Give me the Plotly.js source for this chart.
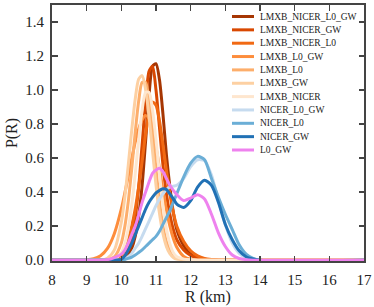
<!DOCTYPE html>
<html><head><meta charset="utf-8">
<script src="https://cdn.plot.ly/plotly-3.0.1.min.js"></script>
<style>html,body{margin:0;padding:0;background:#fff}#chart{width:374px;height:307px}</style>
</head><body><div id="chart"></div>
<script>
// Radius grid (km)
const R = [8, 9, 9.2, 9.4, 9.6, 9.8, 10, 10.1, 10.2, 10.3, 10.4, 10.5, 10.6, 10.7, 10.8, 10.9, 11, 11.1, 11.2, 11.3, 11.4, 11.5, 11.6, 11.8, 12, 12.2, 12.4, 12.6, 12.8, 13, 13.2, 13.4, 13.6, 13.8, 14, 17];

const LMXB_NICER_L0_GW = [0, 0, 0, 0, 0, 0, 0.004, 0.012, 0.03, 0.07, 0.14, 0.26, 0.44, 0.7, 0.97, 1.14, 1.155, 1.06, 0.86, 0.62, 0.43, 0.28, 0.18, 0.085, 0.035, 0.012, 0.004, 0.001, 0, 0, 0, 0, 0, 0, 0, 0];
const LMXB_NICER_GW    = [0, 0, 0, 0, 0, 0.002, 0.008, 0.025, 0.06, 0.13, 0.25, 0.43, 0.68, 0.93, 1.11, 1.14, 1.0, 0.78, 0.56, 0.39, 0.27, 0.18, 0.12, 0.06, 0.028, 0.012, 0.005, 0.002, 0, 0, 0, 0, 0, 0, 0, 0];
const LMXB_NICER_L0    = [0, 0, 0, 0, 0.003, 0.01, 0.03, 0.06, 0.12, 0.2, 0.3, 0.43, 0.58, 0.74, 0.87, 0.93, 0.91, 0.82, 0.68, 0.53, 0.39, 0.28, 0.2, 0.11, 0.055, 0.025, 0.01, 0.004, 0.001, 0, 0, 0, 0, 0, 0, 0];
const LMXB_L0_GW       = [0, 0.002, 0.008, 0.026, 0.069, 0.157, 0.301, 0.394, 0.495, 0.597, 0.693, 0.772, 0.826, 0.85, 0.833, 0.768, 0.665, 0.541, 0.414, 0.297, 0.2, 0.127, 0.076, 0.022, 0.005, 0.001, 0, 0, 0, 0, 0, 0, 0, 0, 0, 0];
const LMXB_L0          = [0, 0, 0, 0, 0.002, 0.019, 0.101, 0.197, 0.344, 0.537, 0.749, 0.935, 1.045, 1.045, 0.935, 0.749, 0.537, 0.344, 0.197, 0.11, 0.06, 0.03, 0.015, 0.005, 0.001, 0, 0, 0, 0, 0, 0, 0, 0, 0, 0, 0];
const LMXB_GW          = [0, 0, 0, 0, 0.011, 0.06, 0.223, 0.37, 0.559, 0.764, 0.946, 1.064, 1.085, 1.004, 0.842, 0.641, 0.442, 0.276, 0.157, 0.081, 0.038, 0.016, 0.006, 0.003, 0.001, 0, 0, 0, 0, 0, 0, 0, 0, 0, 0, 0];
const LMXB_NICER       = [0, 0, 0, 0, 0, 0.007, 0.044, 0.096, 0.186, 0.325, 0.506, 0.707, 0.882, 0.986, 0.986, 0.882, 0.707, 0.506, 0.325, 0.186, 0.096, 0.044, 0.02, 0.006, 0.002, 0, 0, 0, 0, 0, 0, 0, 0, 0, 0, 0];
const NICER_L0_GW      = [0, 0, 0, 0, 0, 0, 0, 0.008, 0.02, 0.04, 0.07, 0.1, 0.14, 0.185, 0.23, 0.275, 0.32, 0.36, 0.39, 0.415, 0.43, 0.435, 0.44, 0.48, 0.55, 0.59, 0.585, 0.5, 0.35, 0.21, 0.1, 0.04, 0.015, 0.005, 0, 0];
const NICER_L0         = [0, 0, 0, 0, 0, 0, 0, 0.004, 0.01, 0.018, 0.03, 0.045, 0.06, 0.08, 0.1, 0.12, 0.14, 0.17, 0.21, 0.25, 0.29, 0.34, 0.39, 0.49, 0.57, 0.61, 0.59, 0.48, 0.37, 0.27, 0.18, 0.09, 0.035, 0.01, 0, 0];
const NICER_GW         = [0, 0, 0, 0, 0, 0, 0.005, 0.025, 0.06, 0.1, 0.15, 0.2, 0.25, 0.3, 0.34, 0.37, 0.395, 0.41, 0.42, 0.415, 0.39, 0.36, 0.33, 0.31, 0.35, 0.43, 0.47, 0.44, 0.34, 0.21, 0.12, 0.055, 0.02, 0.007, 0, 0];
const L0_GW            = [0, 0, 0, 0, 0.003, 0.015, 0.035, 0.06, 0.1, 0.15, 0.2, 0.265, 0.34, 0.4, 0.46, 0.51, 0.53, 0.54, 0.52, 0.48, 0.44, 0.41, 0.385, 0.35, 0.365, 0.385, 0.36, 0.27, 0.16, 0.08, 0.03, 0.01, 0.003, 0, 0, 0];

const names = ['LMXB_NICER_L0_GW', 'LMXB_NICER_GW', 'LMXB_NICER_L0', 'LMXB_L0_GW', 'LMXB_L0', 'LMXB_GW', 'LMXB_NICER', 'NICER_L0_GW', 'NICER_L0', 'NICER_GW', 'L0_GW'];
const series = [LMXB_NICER_L0_GW, LMXB_NICER_GW, LMXB_NICER_L0, LMXB_L0_GW, LMXB_L0, LMXB_GW, LMXB_NICER, NICER_L0_GW, NICER_L0, NICER_GW, L0_GW];
const colors = ['#a63603', '#d94801', '#f16913', '#fd8d3c', '#fdae6b', '#fdd0a2', '#fee6ce', '#c6dbef', '#6baed6', '#2171b5', '#ee82ee'];

const traces = series.map((y, i) => ({
  x: R, y: y, name: names[i], type: 'scatter', mode: 'lines', showlegend: false,
  line: {color: colors[i], width: 3, shape: 'spline', smoothing: 0.7}
}));

// Compact legend (paper coordinates of the plot area)
const W = 312, H = 256;            // plot area size in px
const rowTop = 11.5, rowGap = 13.35; // px from top of plot area
const shapes = [], annotations = [];
names.forEach((n, i) => {
  const yp = 1 - (rowTop + i * rowGap) / H;
  shapes.push({type: 'line', xref: 'paper', yref: 'paper',
    x0: 180 / W, x1: 202 / W, y0: yp, y1: yp,
    line: {color: colors[i], width: 3}});
  annotations.push({xref: 'paper', yref: 'paper', x: 206 / W, y: yp,
    xanchor: 'left', yanchor: 'middle', showarrow: false, text: n,
    font: {family: 'Liberation Serif, Times New Roman, serif', size: 9.5, color: '#222'}});
});

const serif = 'Liberation Serif, Times New Roman, serif';
const axisCommon = {
  showgrid: false, zeroline: false, showline: true, linecolor: '#444', linewidth: 2,
  mirror: 'ticks', ticks: 'inside', ticklen: 5.5, tickwidth: 1.5, tickcolor: '#444',
  tickfont: {family: serif, size: 15, color: '#222'}
};
const layout = {
  width: 374, height: 307,
  margin: {l: 52, r: 10, t: 5, b: 46},
  paper_bgcolor: '#fff', plot_bgcolor: '#fff',
  showlegend: false,
  shapes: shapes, annotations: annotations,
  xaxis: Object.assign({}, axisCommon, {range: [8, 17], dtick: 1, tick0: 8, ticklabelstandoff: 4,
    title: {text: 'R (km)', font: {family: serif, size: 16, color: '#222'}, standoff: 3}}),
  yaxis: Object.assign({}, axisCommon, {range: [-0.005, 1.5], dtick: 0.2, tick0: 0, tickformat: '.1f', ticklabelstandoff: 3,
    title: {text: 'P(R)', font: {family: serif, size: 16, color: '#222'}, standoff: 4}})
};
Plotly.newPlot('chart', traces, layout, {displayModeBar: false, staticPlot: true});
</script></body></html>
